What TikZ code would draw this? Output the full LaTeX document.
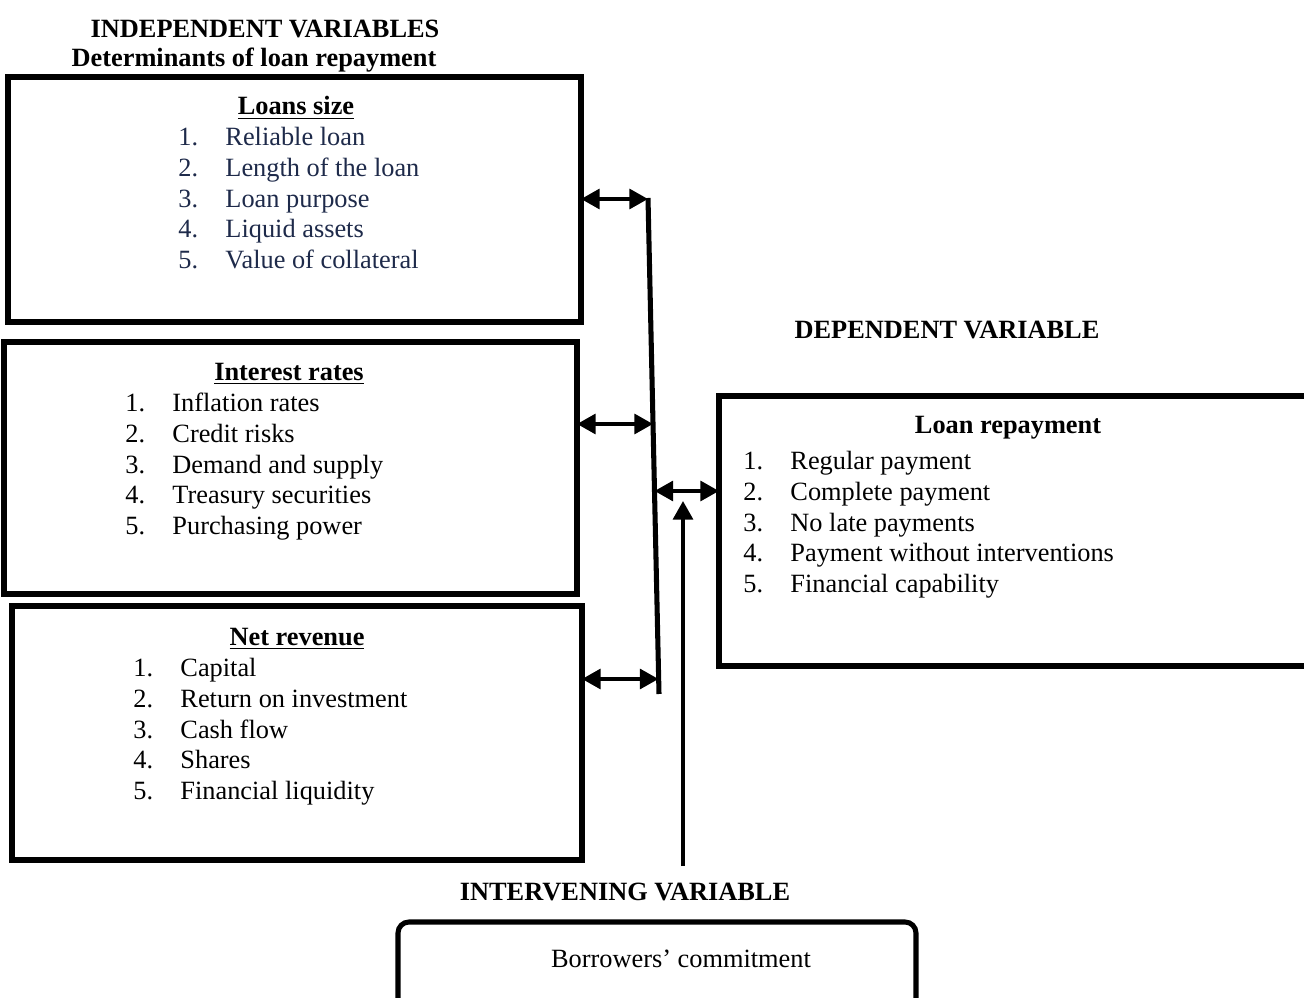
\documentclass[tikz,border=0pt]{standalone}
\usepackage{fontspec}
\setmainfont{Liberation Serif}
\usetikzlibrary{arrows.meta,positioning,fit}
\definecolor{ink}{HTML}{1E2A4A}

\begin{document}
\begin{tikzpicture}[x=0.016cm,y=-0.016cm,font=\fontsize{12}{14}\selectfont,>={Triangle[length=8.5pt,width=9pt]},
  box/.style={draw,line width=2.3pt,inner sep=0pt,outer sep=0pt},
  head/.style={font=\fontsize{12}{14}\selectfont\bfseries,inner sep=0pt},
  item/.style={anchor=west,inner sep=0pt,text height=8pt,text depth=2.6pt},
  link/.style={<->,line width=1.8pt},
  every node/.style={inner sep=1pt}]
\clip (0,0) rectangle (1304,998);
% --- titles ---
\node[head] (indep) at (265,29) {INDEPENDENT VARIABLES};
\node[head] (determ) at (254,60) {Determinants of loan repayment};
\node[head] (depvar) at (947,330) {DEPENDENT VARIABLE};
\node[head] (intvar) at (625,892) {INTERVENING VARIABLE};
% --- boxes ---
\node[box,fit={(8,77)(581,322)}] (loans) {};
\node[box,fit={(4,342)(577,594)}] (rates) {};
\node[box,fit={(12,606)(582,860)}] (revenue) {};
\node[box,fit={(719,396)(1320,666)}] (repay) {};
\node[box,rounded corners=5pt,fit={(398,922)(916,1010)}] (commit) {};
% --- Loans size ---
\node[head] (loansH) at (296,108) {\underline{Loans size}};
\foreach \t [count=\k] in {Reliable loan,Length of the loan,Loan purpose,Liquid assets,Value of collateral}
  {\node[item,ink] (ln\k) at (178,{109+30.75*\k}) {\k.}; \node[item,ink] (lt\k) at (225,{109+30.75*\k}) {\t};}
% --- Interest rates ---
\node[head] (ratesH) at (289,374) {\underline{Interest rates}};
\foreach \t [count=\k] in {Inflation rates,Credit risks,Demand and supply,Treasury securities,Purchasing power}
  {\node[item] (rn\k) at (125,{375+30.75*\k}) {\k.}; \node[item] (rt\k) at (172,{375+30.75*\k}) {\t};}
% --- Net revenue ---
\node[head] (revenueH) at (297,639) {\underline{Net revenue}};
\foreach \t [count=\k] in {Capital,Return on investment,Cash flow,Shares,Financial liquidity}
  {\node[item] (vn\k) at (133,{640+30.75*\k}) {\k.}; \node[item] (vt\k) at (180,{640+30.75*\k}) {\t};}
% --- Loan repayment ---
\node[head] (repayH) at (1008,428) {Loan repayment};
\foreach \t [count=\k] in {Regular payment,Complete payment,No late payments,Payment without interventions,Financial capability}
  {\node[item] (pn\k) at (743,{433+30.75*\k}) {\k.}; \node[item] (pt\k) at (790,{433+30.75*\k}) {\t};}
% --- Borrowers' commitment ---
\node (commitT) at (681,959) {Borrowers’ commitment};
% --- connectors ---
\coordinate (bartop) at (648,198);
\coordinate (barbot) at (659,694);
\coordinate (b1) at (648,199);
\coordinate (b2) at (653,424);
\coordinate (b3) at (654.5,491);
\coordinate (b4) at (658.5,679);
\coordinate (up) at (683,866);
\coordinate (tip) at (683,501);
\draw[line width=2.3pt] (bartop) -- (barbot);
\draw[link] (loans.east |- b1) -- (b1);
\draw[link] (rates.east |- b2) -- (b2);
\draw[link] (revenue.east |- b4) -- (b4);
\draw[link] (b3) -- (repay.west |- b3);
\draw[->,line width=1.8pt] (up) -- (tip);
\end{tikzpicture}
\end{document}
